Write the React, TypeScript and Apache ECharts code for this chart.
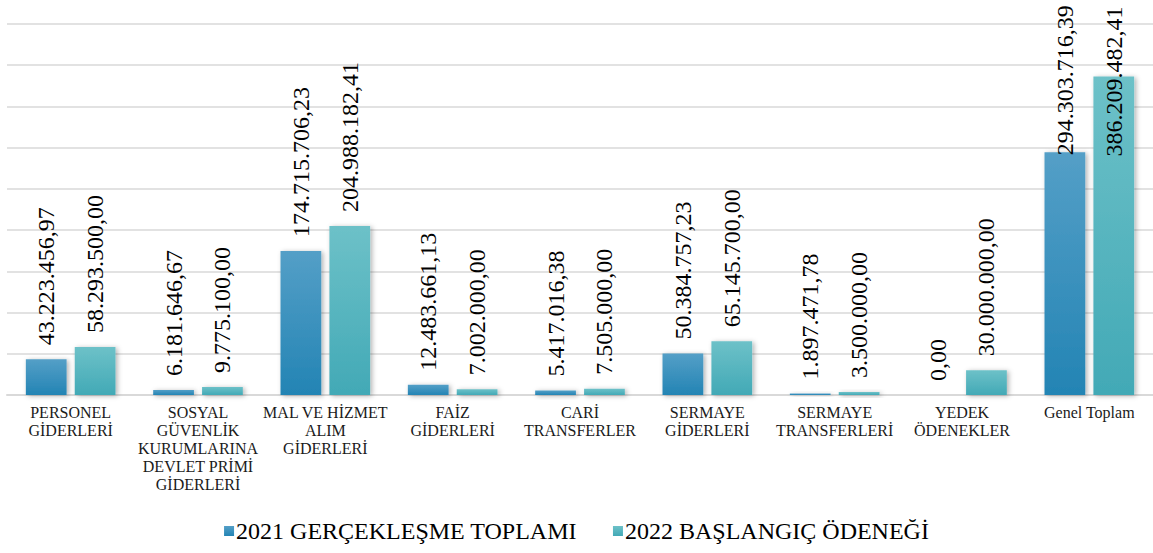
import React, { useEffect, useRef } from "react";
import * as echarts from "echarts";

const categories = [
  "PERSONEL\nGİDERLERİ",
  "SOSYAL\nGÜVENLİK\nKURUMLARINA\nDEVLET PRİMİ\nGİDERLERİ",
  "MAL VE HİZMET\nALIM\nGİDERLERİ",
  "FAİZ\nGİDERLERİ",
  "CARİ\nTRANSFERLER",
  "SERMAYE\nGİDERLERİ",
  "SERMAYE\nTRANSFERLERİ",
  "YEDEK\nÖDENEKLER",
  "Genel Toplam",
];

const series2021Name = "2021 GERÇEKLEŞME TOPLAMI";
const series2022Name = "2022 BAŞLANGIÇ ÖDENEĞİ";

const values2021 = [
  43223456.97, 6181646.67, 174715706.23, 12483661.13, 5417016.38,
  50384757.23, 1897471.78, 0.0, 294303716.39,
];
const values2022 = [
  58293500.0, 9775100.0, 204988182.41, 7002000.0, 7505000.0, 65145700.0,
  3500000.0, 30000000.0, 386209482.41,
];

const yMin = 0;
const yMax = 450000000;
const yInterval = 50000000;

function fmtTR(v: number): string {
  const fixed = v.toFixed(2);
  const [intPart, dec] = fixed.split(".");
  const withDots = intPart.replace(/\B(?=(\d{3})+(?!\d))/g, ".");
  return withDots + "," + dec;
}

const FONT = "Times New Roman, Liberation Serif, DejaVu Serif, serif";

export default function App() {
  const ref = useRef<HTMLDivElement>(null);

  useEffect(() => {
    if (!ref.current) return;
    const chart = echarts.init(ref.current, undefined, { renderer: "svg" });

    const labelBase = {
      show: true,
      position: "top" as const,
      rotate: 90,
      align: "left" as const,
      verticalAlign: "middle" as const,
      distance: 14,
      fontFamily: FONT,
      fontSize: 24,
      color: "#000",
      formatter: (p: any) => fmtTR(p.value),
    };

    // Labels of the tallest bars are pushed down so they stay inside the chart
    const lastIdx = categories.length - 1;
    const makeData = (vals: number[], lastOffset: number) =>
      vals.map((v, i) =>
        i === lastIdx
          ? {
              value: v,
              label: { position: ["50%", lastOffset], distance: 0 },
            }
          : v
      );

    const blue = new echarts.graphic.LinearGradient(0, 0, 0, 1, [
      { offset: 0, color: "#549FC7" },
      { offset: 1, color: "#2384B4" },
    ]);
    const teal = new echarts.graphic.LinearGradient(0, 0, 0, 1, [
      { offset: 0, color: "#6DC1C8" },
      { offset: 1, color: "#42A9B6" },
    ]);

    const itemStyleCommon = {
      shadowBlur: 5,
      shadowColor: "rgba(0,0,0,0.3)",
      shadowOffsetX: 2,
      shadowOffsetY: 1,
    };

    chart.setOption({
      animation: false,
      textStyle: { fontFamily: FONT },
      grid: { left: 7, right: 0, top: 24, bottom: 158, containLabel: false },
      legend: {
        bottom: 5,
        left: "center",
        itemWidth: 10,
        itemHeight: 10,
        itemGap: 36,
        icon: "rect",
        textStyle: { fontFamily: FONT, fontSize: 24, color: "#000", padding: [0, 0, 0, -3] },
        data: [series2021Name, series2022Name],
      },
      xAxis: {
        type: "category",
        data: categories,
        axisLine: { show: true, lineStyle: { color: "#d9d9d9", width: 2 } },
        axisTick: { show: false },
        axisLabel: {
          interval: 0,
          margin: 8,
          fontFamily: FONT,
          fontSize: 16,
          lineHeight: 18,
          color: "#1a1a1a",
          verticalAlign: "top",
        },
      },
      yAxis: {
        type: "value",
        min: yMin,
        max: yMax,
        interval: yInterval,
        axisLabel: { show: false },
        axisLine: { show: false },
        axisTick: { show: false },
        splitLine: { lineStyle: { color: "#d9d9d9", width: 1.5 } },
      },
      series: [
        {
          name: series2021Name,
          type: "bar",
          data: makeData(values2021, 3),
          barWidth: "32%",
          barGap: "20%",
          itemStyle: { color: blue, ...itemStyleCommon },
          label: labelBase,
        },
        {
          name: series2022Name,
          type: "bar",
          data: makeData(values2022, 80),
          barWidth: "32%",
          barGap: "20%",
          itemStyle: { color: teal, ...itemStyleCommon },
          label: labelBase,
        },
      ],
    });

    return () => chart.dispose();
  }, []);

  return (
    <div
      ref={ref}
      style={{ position: "fixed", left: 0, top: 0, width: 1153, height: 553, background: "#fff" }}
    />
  );
}
